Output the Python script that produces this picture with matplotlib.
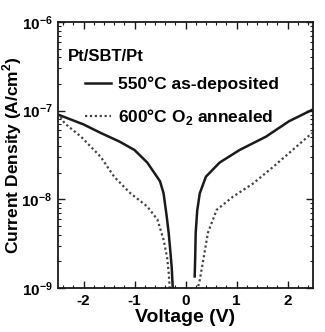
import numpy as np
import matplotlib
matplotlib.use('Agg')
import matplotlib.pyplot as plt
from matplotlib.ticker import MultipleLocator, LogLocator, NullFormatter, FixedLocator, FixedFormatter

# =============================================================================
# DATA
# =============================================================================

# 550 C as-deposited (solid), negative and positive branches
v_dep_neg = [-2.47, -2.0, -1.66, -1.3, -1.0, -0.75, -0.5, -0.43, -0.37, -0.33, -0.30, -0.27, -0.25]
j_dep_neg = [8.9e-8, 7.0e-8, 5.6e-8, 4.5e-8, 3.6e-8, 2.6e-8, 1.6e-8, 1.17e-8, 6.5e-9, 4.2e-9, 2.7e-9, 1.7e-9, 1.0e-9]
v_dep_pos = [0.18, 0.19, 0.20, 0.23, 0.28, 0.4, 0.67, 1.06, 1.58, 2.03, 2.48]
j_dep_pos = [1.35e-9, 2.2e-9, 4.2e-9, 7.5e-9, 1.17e-8, 1.8e-8, 2.6e-8, 3.6e-8, 5.1e-8, 7.6e-8, 1.02e-7]

# 600 C O2 annealed (dotted)
v_ann_neg = [-2.45, -2.37, -2.05, -1.66, -1.4, -1.08, -0.75, -0.55, -0.43, -0.36, -0.33, -0.31]
j_ann_neg = [8.5e-8, 7.2e-8, 5.1e-8, 3.0e-8, 1.8e-8, 1.17e-8, 8.3e-9, 5.9e-9, 3.5e-9, 2.2e-9, 1.5e-9, 1.0e-9]
v_ann_pos = [0.25, 0.28, 0.35, 0.44, 0.61, 0.93, 1.32, 1.71, 2.10, 2.48]
j_ann_pos = [1.05e-9, 1.23e-9, 2.1e-9, 4.2e-9, 7.6e-9, 1.07e-8, 1.5e-8, 2.3e-8, 3.6e-8, 5.6e-8]

y_ticks = [1e-9, 1e-8, 1e-7, 1e-6]
y_labels = [r'$\mathbf{10^{-9}}$', r'$\mathbf{10^{-8}}$', r'$\mathbf{10^{-7}}$', r'$\mathbf{10^{-6}}$']

# =============================================================================
# STYLE
# =============================================================================

plt.rcParams['font.family'] = 'Liberation Sans'
plt.rcParams['font.weight'] = 'bold'
plt.rcParams['axes.unicode_minus'] = False
plt.rcParams['mathtext.fontset'] = 'custom'
plt.rcParams['mathtext.bf'] = 'Liberation Sans:bold'
plt.rcParams['mathtext.rm'] = 'Liberation Sans:bold'

fig = plt.figure(figsize=(3.25, 3.32), dpi=100)
ax = fig.add_axes([58 / 325, 1 - 288 / 332, (313 - 58) / 325, (288 - 22) / 332])

ink = '#1a1a1a'

ax.plot(v_dep_neg, j_dep_neg, color=ink, lw=1.8, label='550°C as-deposited')
ax.plot(v_dep_pos, j_dep_pos, color=ink, lw=1.8)
ax.plot(v_ann_neg, j_ann_neg, color='#444444', lw=1.6, linestyle=(0, (1, 1.2)),
        label='600°C O$_2$ annealed')
ax.plot(v_ann_pos, j_ann_pos, color='#444444', lw=1.6, linestyle=(0, (1, 1.2)))

ax.set_yscale('log')
ax.set_xlim(-2.5, 2.5)
ax.set_ylim(1e-9, 1e-6)

ax.xaxis.set_major_locator(MultipleLocator(1))
ax.xaxis.set_minor_locator(MultipleLocator(0.2))
ax.yaxis.set_major_locator(FixedLocator(y_ticks))
ax.yaxis.set_major_formatter(FixedFormatter(y_labels))
ax.yaxis.set_minor_locator(LogLocator(base=10, subs=np.arange(2, 10)))
ax.yaxis.set_minor_formatter(NullFormatter())

ax.tick_params(which='both', direction='in', top=True, right=True, color=ink)
ax.tick_params(which='major', length=5, width=1.0, labelsize=11, pad=4)
ax.tick_params(which='minor', length=2.5, width=0.8)

for s in ax.spines.values():
    s.set_linewidth(1.3)
    s.set_color(ink)

ax.set_xlabel('Voltage (V)', fontsize=14, fontweight='bold', labelpad=1)
ax.set_ylabel('Current Density (A/cm$^2$)', fontsize=12.5, fontweight='bold')
ax.yaxis.set_label_coords(-0.135, 0.5)

ax.text(0.04, 0.855, 'Pt/SBT/Pt', transform=ax.transAxes, fontsize=12, fontweight='bold')

leg = ax.legend(loc='upper left', bbox_to_anchor=(0.08, 0.82), frameon=False,
                fontsize=12.5, handlelength=1.5, handletextpad=0.4, borderaxespad=0,
                labelspacing=0.85)

fig.savefig('out.png', dpi=100)
